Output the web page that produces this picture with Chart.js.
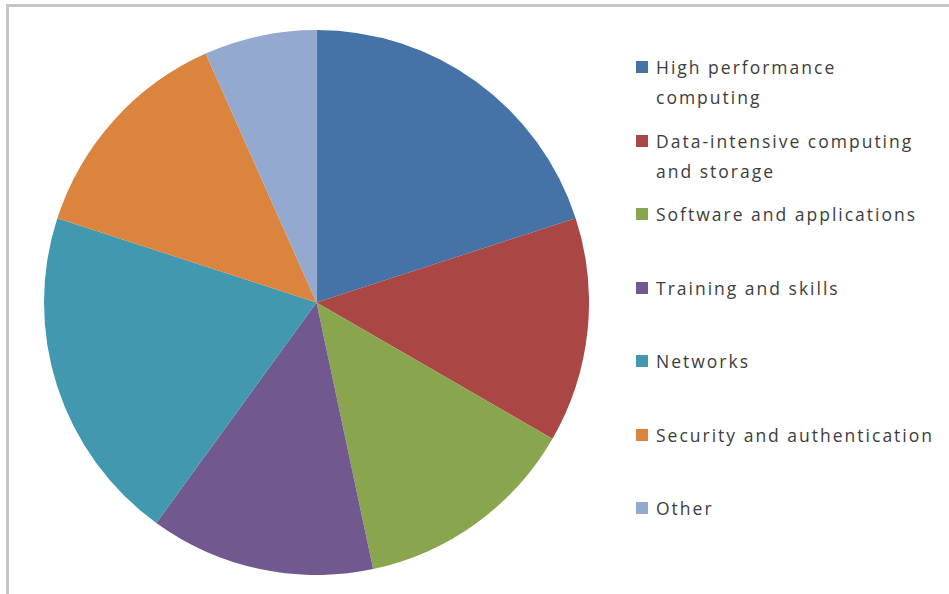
<!DOCTYPE html>
<html>
<head>
<meta charset="utf-8">
<script src="https://cdn.jsdelivr.net/npm/chart.js@4"></script>
<style>
    html, body { margin: 0; padding: 0; background: #fff; }
    body { width: 949px; height: 594px; position: relative; overflow: hidden; }
    #frame {
        position: absolute; left: 6px; top: 4px; right: 0; bottom: 0;
        border-top: 3px solid #c6c6c6; border-left: 3px solid #c6c6c6;
    }
    #pie-wrap { position: absolute; left: 44px; top: 30px; width: 545px; height: 545px; }
    #legend {
        position: absolute; left: 636px; top: 52px; width: 312px;
        font-family: "Open Sans", sans-serif; font-size: 17.5px; color: #3d3d3d;
        letter-spacing: 2px;
    }
    .leg-item { position: absolute; left: 0; display: flex; align-items: flex-start; line-height: 30px; white-space: nowrap; }
    .leg-box { width: 12px; height: 12px; margin-top: 9px; margin-right: 8px; flex: none; }
</style>
</head>
<body>
<div id="frame"></div>
<div id="pie-wrap"><canvas id="pie"></canvas></div>
<div id="legend"></div>
<script>
// --- Data ---
const categories = [
    'High performance computing',
    'Data-intensive computing and storage',
    'Software and applications',
    'Training and skills',
    'Networks',
    'Security and authentication',
    'Other'
];
// legend text split where it wraps
const legendLines = [
    ['High performance', 'computing'],
    ['Data-intensive computing', 'and storage'],
    ['Software and applications'],
    ['Training and skills'],
    ['Networks'],
    ['Security and authentication'],
    ['Other']
];
const responses = [3, 2, 2, 2, 3, 2, 1];
const sliceColors = ['#4572A7', '#AA4643', '#89A54E', '#71588F', '#4198AF', '#DB843D', '#93A9CF'];

// --- Legend ---
function renderLegend() {
    const box = document.getElementById('legend');
    box.innerHTML = '';
    categories.forEach((name, i) => {
        const item = document.createElement('div');
        item.className = 'leg-item';
        item.style.top = (i * 73.5) + 'px';
        item.innerHTML = `<span class="leg-box" style="background:${sliceColors[i]}"></span>
            <span>${legendLines[i].join('<br>')}</span>`;
        box.appendChild(item);
    });
}

// --- Chart ---
function renderChart() {
    const ctx = document.getElementById('pie').getContext('2d');
    new Chart(ctx, {
        type: 'pie',
        data: {
            labels: categories,
            datasets: [{
                data: responses,
                backgroundColor: sliceColors,
                borderWidth: 0
            }]
        },
        options: {
            responsive: true,
            maintainAspectRatio: false,
            animation: false,
            layout: { padding: 0 },
            plugins: {
                legend: { display: false },
                tooltip: { enabled: false }
            }
        }
    });
}

renderLegend();
renderChart();
</script>
</body>
</html>
